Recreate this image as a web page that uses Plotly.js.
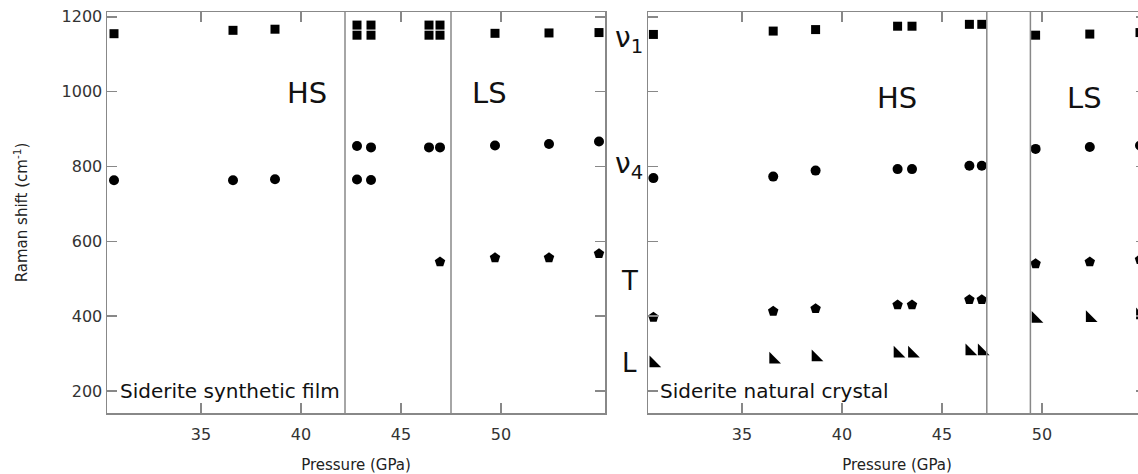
<!DOCTYPE html>
<html>
<head>
<meta charset="utf-8">
<script src="https://cdn.plot.ly/plotly-3.0.1.min.js"></script>
<style>
  html, body { margin:0; padding:0; overflow:hidden; background:#fff; }
  #chart { width:1150px; height:474px; }
</style>
</head>
<body>
<div id="chart"></div>
<script>
// ---- Data: Siderite synthetic film (left panel) ----
const filmSquareP = [30.65, 36.6, 38.7, 42.8, 42.8, 43.5, 43.5, 46.4, 46.4, 46.95, 46.95, 49.7, 52.4, 54.9];
const filmSquareV = [1155, 1164, 1167, 1178, 1151, 1178, 1151, 1178, 1151, 1178, 1151, 1156, 1157, 1158];
const filmCircleP = [30.65, 36.6, 38.7, 42.8, 43.5, 42.8, 43.5, 46.4, 46.95, 49.7, 52.4, 54.9];
const filmCircleV = [763, 763, 766, 855, 851, 765, 764, 851, 851, 856, 860, 867];
const filmPentP = [46.95, 49.7, 52.4, 54.9];
const filmPentV = [545, 556, 556, 567];

// ---- Data: Siderite natural crystal (right panel) ----
const natP = [30.57, 36.56, 38.68, 42.78, 43.5, 46.37, 46.99, 49.68, 52.39, 54.9];
const natSquareV = [1153, 1162, 1166, 1175, 1175, 1180, 1180, 1151, 1154, 1158];
const natCircleV = [769, 773, 789, 793, 793, 802, 802, 847, 852, 856];
const natPentV = [397, 413, 420, 430, 430, 444, 444, 540, 545, 551];
const natTriV = [274, 284, 290, 300, 300, 306, 306, 393, 395, 402];

// Spin-transition boundaries (GPa)
const filmBounds = [42.2, 47.5];
const natBounds = [47.24, 49.42];

const xTicks = [35, 40, 45, 50];
const yTicks = [200, 400, 600, 800, 1000, 1200];

const xRange = [30.3, 55.2];
const yRange = [141, 1213];

function mk(x, y, xa, ya, symbol, size) {
  return {x, y, xaxis: xa, yaxis: ya, type: 'scatter', mode: 'markers',
    marker: {symbol, size, color: '#000', line: {width: 0}}, hoverinfo: 'x+y'};
}

const traces = [
  mk(filmSquareP, filmSquareV, 'x', 'y', 'square', 9),
  mk(filmCircleP, filmCircleV, 'x', 'y', 'circle', 10),
  mk(filmPentP, filmPentV, 'x', 'y', 'pentagon', 11),
  mk(natP, natSquareV, 'x2', 'y2', 'square', 9),
  mk(natP, natCircleV, 'x2', 'y2', 'circle', 10),
  mk(natP, natPentV, 'x2', 'y2', 'pentagon', 11),
  mk(natP, natTriV, 'x2', 'y2', 'triangle-sw', 13)
];

const axColor = '#888';
const common = {
  showline: true, linecolor: axColor, linewidth: 1.5, mirror: 'ticks',
  ticks: 'inside', ticklen: 10, tickwidth: 1.5, tickcolor: axColor,
  showgrid: false, zeroline: false,
  tickfont: {family: 'DejaVu Sans', size: 16, color: '#333'}
};

const L = 107, R = 4, T = 12, B = 61, W = 1150, H = 474;
const PW = W - L - R, PH = H - T - B;
const px = v => (v - L) / PW;
const py = v => (H - B - v) / PH;

const shapes = [];
filmBounds.forEach(b => shapes.push({type: 'line', xref: 'x', yref: 'paper', x0: b, x1: b, y0: 0, y1: 1, line: {color: axColor, width: 1.5}}));
natBounds.forEach(b => shapes.push({type: 'line', xref: 'x2', yref: 'paper', x0: b, x1: b, y0: 0, y1: 1, line: {color: axColor, width: 1.5}}));

function ann(text, x, y, size, xanchor) {
  return {text, xref: 'paper', yref: 'paper', x: px(x), y: py(y), showarrow: false,
    xanchor: xanchor || 'center', yanchor: 'middle',
    font: {family: 'DejaVu Sans', size, color: '#111'}};
}

const annotations = [
  ann('HS', 307, 93, 29),
  ann('LS', 489, 93, 29),
  ann('HS', 897, 98, 29),
  ann('LS', 1084, 98, 29),
  ann('Siderite synthetic film', 118, 391, 20, 'left'),
  ann('Siderite natural crystal', 658, 391, 20, 'left'),
  ann('ν<sub>1</sub>', 613, 40, 28, 'left'),
  ann('ν<sub>4</sub>', 613, 166, 28, 'left'),
  ann('T', 629, 281, 26),
  ann('L', 629, 363, 26)
];

const xTitle = {text: 'Pressure (GPa)', font: {size: 15, color: '#222'}, standoff: 28};

const layout = {
  width: W, height: H,
  margin: {l: L, r: R, t: T, b: B},
  showlegend: false,
  paper_bgcolor: '#fff', plot_bgcolor: '#fff',
  font: {family: 'DejaVu Sans', color: '#222'},
  xaxis: Object.assign({}, common, {
    domain: [0, 498 / PW], range: xRange, anchor: 'y',
    tickvals: xTicks, ticklabelstandoff: 6,
    title: xTitle
  }),
  xaxis2: Object.assign({}, common, {
    domain: [541 / PW, 1], range: xRange, anchor: 'y2',
    tickvals: xTicks, ticklabelstandoff: 6,
    title: xTitle
  }),
  yaxis: Object.assign({}, common, {
    range: yRange, anchor: 'x', tickvals: yTicks,
    title: {text: 'Raman shift (cm<sup>-1</sup>)', font: {size: 15, color: '#222'}, standoff: 30}
  }),
  yaxis2: Object.assign({}, common, {
    range: yRange, anchor: 'x2', tickvals: yTicks, showticklabels: false
  }),
  shapes, annotations
};

Plotly.newPlot('chart', traces, layout, {displayModeBar: false, staticPlot: true});
</script>
</body>
</html>
